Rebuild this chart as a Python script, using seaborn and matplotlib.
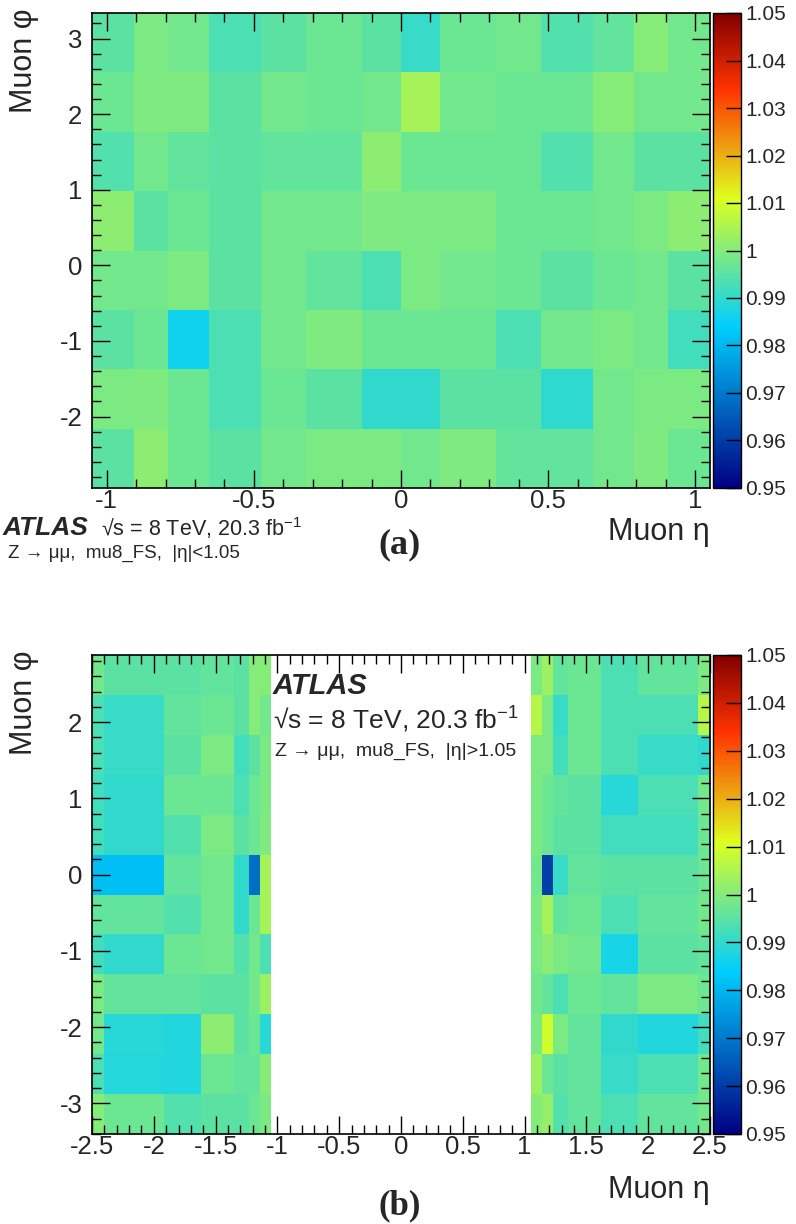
# Muon trigger efficiency data/MC ratio vs (eta, phi), barrel (a) and endcap (b)
import numpy as np
import pandas as pd
import matplotlib
matplotlib.use("Agg")
import matplotlib.pyplot as plt
from matplotlib.colors import LinearSegmentedColormap
from matplotlib.ticker import MultipleLocator, FormatStrFormatter
import seaborn as sns

# ---- data ----
# barrel: 14 eta bins x 8 phi bins, rows listed from top (high phi) to bottom
eta_edges_a = [-1.05, -0.908, -0.791, -0.652, -0.477, -0.324, -0.133, 0.0,
               0.133, 0.324, 0.477, 0.652, 0.791, 0.908, 1.05]
phi_edges_a = [-2.945, -2.160, -1.374, -0.589, 0.196, 0.982, 1.767, 2.553, 3.338]
ratio_a = [
    [0.995, 0.999, 0.998, 0.993, 0.995, 0.997, 0.995, 0.991, 0.997, 0.998, 0.994, 0.996, 1.000, 0.998],
    [0.997, 0.9995, 0.9995, 0.995, 0.998, 0.997, 0.998, 1.004, 0.998, 0.997, 0.997, 1.000, 0.998, 0.998],
    [0.994, 0.998, 0.996, 0.995, 0.996, 0.996, 1.001, 0.997, 0.997, 0.997, 0.994, 0.998, 0.995, 0.995],
    [1.001, 0.995, 0.997, 0.995, 0.998, 0.998, 0.9995, 0.999, 0.999, 0.997, 0.997, 0.998, 0.999, 1.001],
    [0.998, 0.998, 0.999, 0.995, 0.998, 0.996, 0.993, 0.999, 0.998, 0.997, 0.995, 0.997, 0.998, 0.995],
    [0.995, 0.997, 0.986, 0.993, 0.998, 0.9995, 0.997, 0.997, 0.997, 0.993, 0.998, 0.999, 0.998, 0.992],
    [0.999, 0.9995, 0.997, 0.993, 0.997, 0.995, 0.990, 0.990, 0.995, 0.995, 0.9895, 0.998, 0.999, 0.999],
    [0.995, 1.001, 0.997, 0.995, 0.998, 0.999, 0.999, 0.998, 0.9995, 0.996, 0.996, 0.998, 0.9995, 0.997],
]

# endcap: 7 + 7 eta bins (gap at |eta|<1.05) x 12 phi bins, rows top to bottom
eta_edges_b = [-2.5, -2.4, -1.92, -1.62, -1.35, -1.23, -1.14, -1.05,
               1.05, 1.14, 1.23, 1.35, 1.62, 1.92, 2.4, 2.5]
phi_edges_b = [-3.403, -2.880, -2.356, -1.833, -1.309, -0.785, -0.262,
               0.262, 0.785, 1.309, 1.833, 2.356, 2.880]
ratio_b = [
    [0.998, 0.995, 0.995, 0.996, 0.995, 1.000, 1.000, 0.999, 1.003, 0.996, 0.997, 0.993, 0.996, 0.999],
    [0.993, 0.991, 0.996, 0.997, 0.995, 1.000, 0.998, 1.006, 0.999, 0.991, 0.997, 0.993, 0.993, 1.006],
    [0.993, 0.991, 0.995, 0.999, 0.992, 0.995, 0.999, 0.999, 0.999, 0.992, 0.997, 0.993, 0.991, 0.990],
    [0.992, 0.990, 0.997, 0.997, 0.993, 0.997, 0.999, 0.999, 0.997, 0.996, 0.995, 0.989, 0.993, 0.998],
    [0.992, 0.990, 0.994, 0.999, 0.995, 0.997, 0.9995, 0.999, 0.997, 0.995, 0.995, 0.992, 0.992, 0.997],
    [0.9815, 0.9815, 0.996, 0.998, 0.990, 0.9685, 1.004, 0.998, 0.9605, 0.991, 0.996, 0.995, 0.995, 0.997],
    [0.996, 0.996, 0.994, 0.998, 0.990, 0.997, 1.004, 0.999, 1.004, 0.996, 0.997, 0.993, 0.996, 0.998],
    [0.992, 0.990, 0.997, 0.998, 0.994, 0.998, 0.993, 0.999, 1.001, 0.999, 0.998, 0.987, 0.995, 0.996],
    [0.999, 0.996, 0.996, 0.995, 0.995, 0.998, 1.003, 0.998, 0.996, 0.993, 0.997, 0.996, 0.999, 0.997],
    [0.998, 0.989, 0.988, 1.001, 0.995, 0.997, 0.989, 0.999, 1.009, 0.999, 0.996, 0.990, 0.988, 0.992],
    [0.993, 0.9885, 0.988, 0.997, 0.996, 0.996, 1.000, 1.003, 0.997, 0.995, 0.996, 0.991, 0.993, 0.998],
    [1.000, 0.997, 0.994, 0.995, 0.995, 0.997, 0.999, 1.000, 1.002, 0.994, 0.996, 0.993, 0.996, 0.998],
]


def to_frame(eta_edges, phi_edges, rows, skip_bins=()):
    eta_c = [(lo + hi) / 2 for i, (lo, hi) in enumerate(zip(eta_edges[:-1], eta_edges[1:]))
             if i not in skip_bins]
    phi_c = [(lo + hi) / 2 for lo, hi in zip(phi_edges[:-1], phi_edges[1:])][::-1]
    recs = []
    for phi, row in zip(phi_c, rows):
        for eta, val in zip(eta_c, row):
            recs.append({"eta": eta, "phi": phi, "ratio": val})
    return pd.DataFrame(recs)


df_a = to_frame(eta_edges_a, phi_edges_a, ratio_a)
df_b = to_frame(eta_edges_b, phi_edges_b, ratio_b, skip_bins=(7,))

# ROOT-style rainbow palette
root_cmap = LinearSegmentedColormap.from_list(
    "root_rainbow",
    [(0.0, (0.0, 0.0, 0.51)), (0.34, (0.0, 0.81, 1.0)), (0.61, (0.87, 1.0, 0.12)),
     (0.84, (1.0, 0.2, 0.0)), (1.0, (0.51, 0.0, 0.0))], N=256)

sns.set_style("ticks")
plt.rcParams["font.family"] = ["Liberation Sans", "DejaVu Sans"]
plt.rcParams["axes.unicode_minus"] = False
plt.rcParams["mathtext.fontset"] = "custom"
plt.rcParams["mathtext.rm"] = "Liberation Sans"
plt.rcParams["mathtext.it"] = "Liberation Sans:italic"

W, H = 796, 1224
fig = plt.figure(figsize=(W / 100, H / 100), dpi=100)


def px_rect(x0, y0, x1, y1):
    return [x0 / W, 1 - y1 / H, (x1 - x0) / W, (y1 - y0) / H]


def style_axes(ax, cax, xlim, ylim, xmaj, ymaj):
    ax.set_axisbelow(False)
    ax.set_xlim(*xlim)
    ax.set_ylim(*ylim)
    ax.xaxis.set_major_locator(MultipleLocator(xmaj))
    ax.xaxis.set_minor_locator(MultipleLocator(0.1))
    ax.yaxis.set_major_locator(MultipleLocator(ymaj))
    ax.yaxis.set_minor_locator(MultipleLocator(0.2))
    ax.xaxis.set_major_formatter(FormatStrFormatter("%g"))
    ax.yaxis.set_major_formatter(FormatStrFormatter("%g"))
    ax.tick_params(which="both", direction="in", top=True, right=True, width=1, color="black")
    ax.tick_params(which="major", length=13, labelsize=18.5)
    ax.tick_params(axis="x", which="major", pad=1)
    ax.tick_params(axis="y", which="major", pad=7)
    ax.tick_params(which="minor", length=6.5)
    for s in ax.spines.values():
        s.set_linewidth(1.2)
        s.set_color("black")
    ax.set_xlabel("Muon η", fontsize=22)
    ax.set_ylabel("Muon φ", fontsize=22)
    ax.xaxis.label.set(ha="right", va="center")
    ax.yaxis.label.set(ha="center", va="top", rotation_mode="default")
    ax.yaxis.set_label_coords(-0.11, 1.01)
    # colorbar
    cax.set_axisbelow(False)
    cax.yaxis.set_major_locator(MultipleLocator(0.01))
    cax.yaxis.set_major_formatter(FormatStrFormatter("%g"))
    cax.tick_params(direction="in", length=11, width=1, color="black", labelsize=15, pad=3,
                    right=True, left=False, labelright=True, labelleft=False)
    cax.minorticks_off()
    for s in cax.spines.values():
        s.set_linewidth(1)
        s.set_color("black")


# ---- panel (a) ----
ax_a = fig.add_axes(px_rect(92, 13, 710, 488))
cax_a = fig.add_axes(px_rect(713, 13, 741, 488))
sns.histplot(data=df_a, x="eta", y="phi", weights="ratio",
             bins=[eta_edges_a, phi_edges_a], cmap=root_cmap, vmin=0.95, vmax=1.05,
             cbar=True, cbar_ax=cax_a, ax=ax_a)
style_axes(ax_a, cax_a, (-1.05, 1.05), (phi_edges_a[0], phi_edges_a[-1]), 0.5, 1)
ax_a.xaxis.set_label_coords(1.0, -(532 - 488) / 475)

fig.text(3 / W, 1 - 528 / H, "ATLAS", fontsize=19, fontweight="bold", fontstyle="italic",
         va="center", ha="left")
fig.text(101 / W, 1 - 528 / H, "√s = 8 TeV, 20.3 fb$^{-1}$", fontsize=15.5,
         va="center", ha="left")
fig.text(8 / W, 1 - 553 / H, "Z → μμ,  mu8_FS,  |η|<1.05", fontsize=13.5,
         va="center", ha="left")
fig.text(400 / W, 1 - 545 / H, "(a)", fontsize=26, fontweight="bold",
         family=["Liberation Serif", "DejaVu Serif"], va="center", ha="center")

# ---- panel (b) ----
ax_b = fig.add_axes(px_rect(92, 655, 710, 1134))
cax_b = fig.add_axes(px_rect(713, 655, 741, 1134))
sns.histplot(data=df_b, x="eta", y="phi", weights="ratio",
             bins=[eta_edges_b, phi_edges_b], cmap=root_cmap, vmin=0.95, vmax=1.05,
             cbar=True, cbar_ax=cax_b, ax=ax_b)
style_axes(ax_b, cax_b, (-2.5, 2.5), (phi_edges_b[0], phi_edges_b[-1]), 0.5, 1)
ax_b.xaxis.set_label_coords(1.0, -(1190 - 1134) / 479)

fig.text(273 / W, 1 - 686 / H, "ATLAS", fontsize=21, fontweight="bold", fontstyle="italic",
         va="center", ha="left")
fig.text(273 / W, 1 - 720 / H, "√s = 8 TeV, 20.3 fb$^{-1}$", fontsize=19,
         va="center", ha="left")
fig.text(275 / W, 1 - 751 / H, "Z → μμ,  mu8_FS,  |η|>1.05", fontsize=14,
         va="center", ha="left")
fig.text(400 / W, 1 - 1206 / H, "(b)", fontsize=25, fontweight="bold",
         family=["Liberation Serif", "DejaVu Serif"], va="center", ha="center")

fig.savefig("out.png", dpi=100)
